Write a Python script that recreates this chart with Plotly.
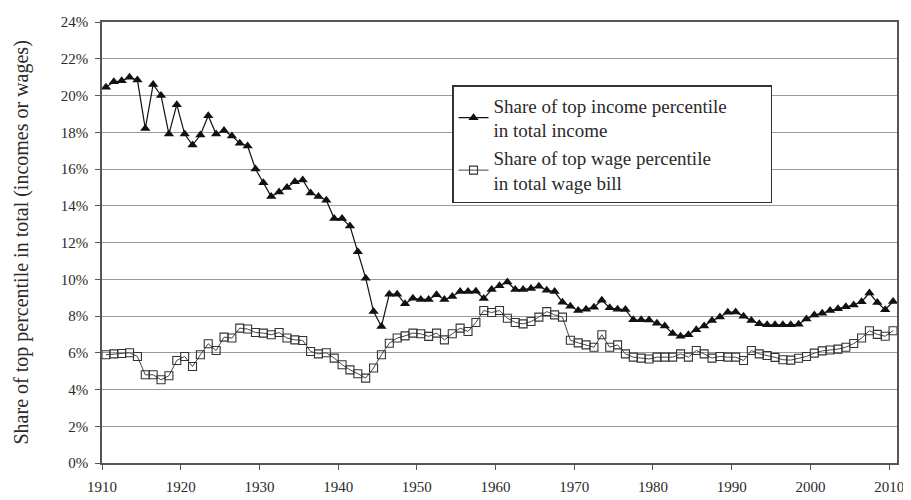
import plotly.graph_objects as go

years = list(range(1910, 2011))

top_income_share = [
    20.45, 20.75, 20.8, 20.99, 20.84, 18.2, 20.6, 20.0, 17.9, 19.5,
    17.9, 17.3, 17.85, 18.9, 17.9, 18.1, 17.8, 17.4, 17.25, 16.0,
    15.25, 14.5, 14.75, 15.0, 15.3, 15.4, 14.7, 14.5, 14.3, 13.3,
    13.3, 12.9, 11.5, 10.06, 8.24, 7.43, 9.19, 9.19, 8.66, 8.97,
    8.9, 8.9, 9.15, 8.9, 9.06, 9.33, 9.33, 9.35, 8.95, 9.44,
    9.64, 9.85, 9.44, 9.44, 9.5, 9.62, 9.4, 9.33, 8.75, 8.53,
    8.3, 8.37, 8.48, 8.86, 8.45, 8.37, 8.35, 7.79, 7.79, 7.78,
    7.6, 7.45, 7.05, 6.9, 6.98, 7.25, 7.45, 7.75, 7.95, 8.2,
    8.22, 7.98, 7.75, 7.58, 7.52, 7.52, 7.52, 7.52, 7.55, 7.83,
    8.06, 8.15, 8.3, 8.4, 8.5, 8.6, 8.78, 9.25, 8.73, 8.34,
    8.79,
]

top_wage_share = [
    5.89, 5.94, 5.96, 6.0, 5.8, 4.8, 4.8, 4.53, 4.75, 5.58,
    5.8, 5.25, 5.89, 6.49, 6.12, 6.85, 6.8, 7.34, 7.29, 7.1,
    7.07, 6.98, 7.1, 6.8, 6.7, 6.67, 6.07, 5.94, 6.0, 5.71,
    5.35, 5.07, 4.86, 4.62, 5.17, 5.89, 6.52, 6.8, 6.92, 7.07,
    7.03, 6.89, 7.07, 6.7, 7.03, 7.34, 7.16, 7.65, 8.3, 8.19,
    8.3, 7.88, 7.65, 7.57, 7.7, 7.94, 8.24, 8.06, 7.94, 6.68,
    6.54, 6.43, 6.3, 6.98, 6.3, 6.43, 5.94, 5.76, 5.71, 5.66,
    5.76, 5.76, 5.76, 5.94, 5.76, 6.12, 5.94, 5.71, 5.8, 5.76,
    5.76, 5.58, 6.12, 5.94, 5.85, 5.75, 5.62, 5.6, 5.7, 5.8,
    5.98, 6.1, 6.15, 6.2, 6.3, 6.5, 6.8, 7.2, 7.0, 6.9,
    7.2,
]

decade_labels = [str(y) for y in range(1910, 2011, 10)]
y_ticks = list(range(0, 25, 2))
y_tick_labels = [f"{v}%" for v in y_ticks]
y_title = "Share of top percentile in total (incomes or wages)"
legend_income = "Share of top income percentile" + "\u00a0" * 8 + "<br>in total income"
legend_wage = "Share of top wage percentile<br>in total wage bill"

FONT = "Liberation Serif, Times New Roman, serif"
TXT = "#2a2a2a"

# the page body has an 8px default margin, so the figure is 8px smaller
W, H = 903, 492
L, R, T, B = 94, 14, 14, 37
plot_w = W - L - R
plot_h = H - T - B

fig = go.Figure()
fig.add_trace(go.Scatter(
    x=years, y=top_income_share, mode="lines+markers",
    name=legend_income,
    line=dict(color="#111111", width=1.2),
    marker=dict(symbol="triangle-up", size=9, color="#111111"),
))
fig.add_trace(go.Scatter(
    x=years, y=top_wage_share, mode="lines+markers",
    name=legend_wage,
    line=dict(color="#444444", width=1),
    marker=dict(symbol="square-open", size=8, color="#333333",
                line=dict(width=1.1)),
))

fig.add_annotation(
    text=y_title, textangle=-90,
    xref="paper", yref="paper",
    x=-(L - 13) / plot_w, y=0.5, xanchor="center", yanchor="middle",
    showarrow=False, font=dict(family=FONT, size=20, color=TXT),
)

fig.update_layout(
    width=W, height=H,
    margin=dict(l=L, r=R, t=T, b=B, autoexpand=False),
    paper_bgcolor="white", plot_bgcolor="white",
    font=dict(family=FONT, color=TXT, size=14),
    showlegend=True,
    legend=dict(
        x=(444 - L) / plot_w, y=(plot_h + T - 77) / plot_h,
        xanchor="left", yanchor="top",
        bgcolor="white", bordercolor="#333333", borderwidth=1.5,
        font=dict(family=FONT, size=19, color=TXT),
        itemwidth=30, tracegroupgap=0,
    ),
    xaxis=dict(
        range=[1909.5, 2010.5], automargin=False,
        tickvals=[int(l) - 0.5 for l in decade_labels],
        ticktext=decade_labels,
        showgrid=False, zeroline=False,
        showline=True, linecolor="#555555", linewidth=1.5, mirror=True,
        ticks="outside", ticklen=5, tickcolor="#555555",
        ticklabelstandoff=4,
        tickfont=dict(family=FONT, size=15, color=TXT),
    ),
    yaxis=dict(
        range=[0, 24], automargin=False,
        tickvals=y_ticks, ticktext=y_tick_labels,
        showgrid=True, gridcolor="#9a9a9a", gridwidth=1.3,
        zeroline=False,
        showline=True, linecolor="#555555", linewidth=1.5, mirror=True,
        ticks="outside", ticklen=5, tickcolor="#555555",
        ticklabelstandoff=4,
        tickfont=dict(family=FONT, size=15, color=TXT),
    ),
)

fig.write_html("out.html")
